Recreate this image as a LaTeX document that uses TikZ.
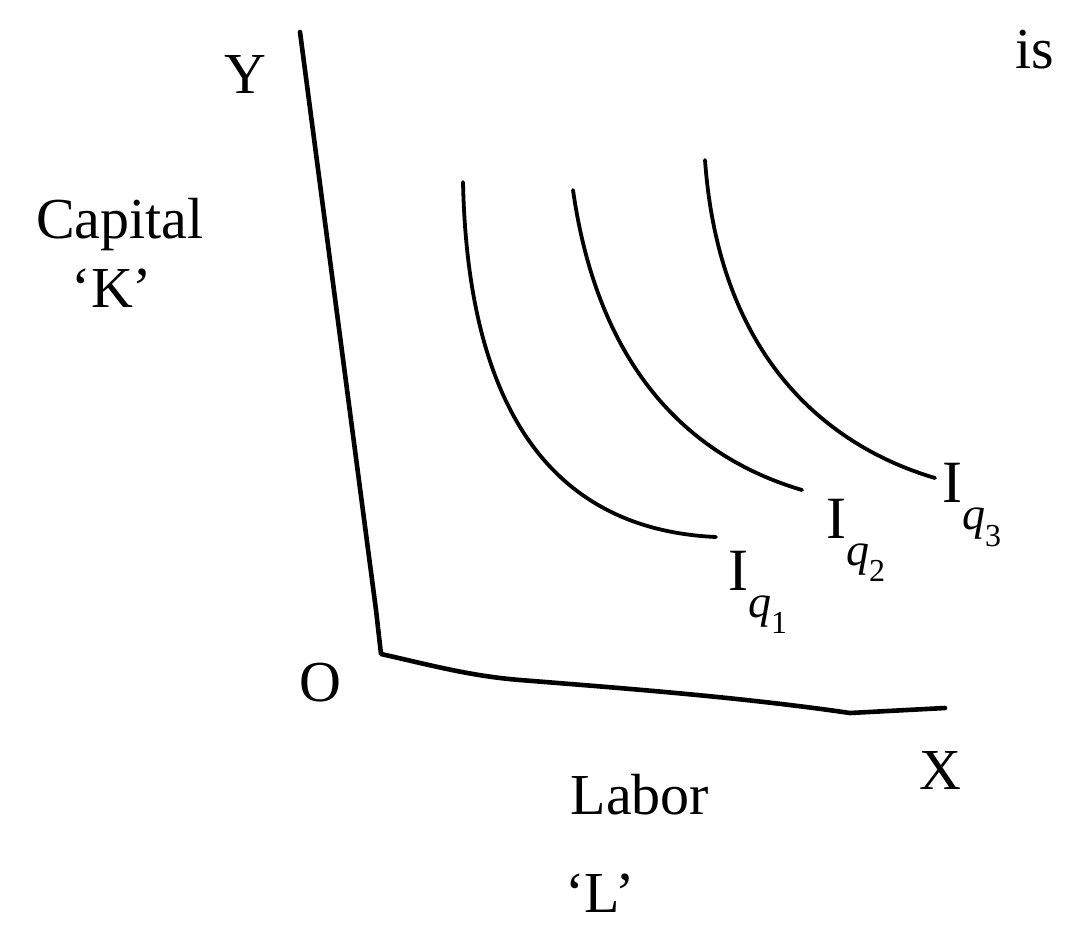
\documentclass[tikz,border=0pt]{standalone}
\usepackage{fontspec}
\setmainfont{Liberation Serif}
\newcommand{\qsub}[1]{\raisebox{-0.45em}{\fontsize{46}{46}\selectfont\itshape q\raisebox{-0.35em}{\upshape\fontsize{32}{32}\selectfont #1}}}
\begin{document}
\begin{tikzpicture}[x=1pt,y=-1pt,
  axis/.style={line width=4.6pt,line cap=round,line join=round},
  iso/.style={line width=3.8pt,line cap=round},
  lbl/.style={inner sep=0pt,font=\fontsize{58}{60}\selectfont},
  slbl/.style={inner sep=0pt,font=\fontsize{60}{62}\selectfont}]
\useasboundingbox[fill=white] (0,0) rectangle (1079,935);
% axes
\coordinate (ytop) at (300,32);
\coordinate (orig) at (381,654);
\coordinate (xend) at (945,708);
\draw[axis] (ytop) -- (376,610) -- (orig) .. controls (430,665) and (470,676) .. (520,680) .. controls (620,688) and (740,697) .. (850,713) -- (xend);
% isoquants
\coordinate (a1) at (463,182);
\coordinate (b1) at (716,537);
\coordinate (a2) at (573,190);
\coordinate (b2) at (802,490);
\coordinate (a3) at (705,160);
\coordinate (b3) at (935,478);
\draw[iso] (a1) .. controls (468,420) and (560,530) .. (b1);
\draw[iso] (a2) .. controls (600,380) and (700,460) .. (b2);
\draw[iso] (a3) .. controls (720,370) and (840,450) .. (b3);
% labels
\node[lbl] (ylab) at (245,75) {Y};
\node[lbl] (cap) at (120,225) {Capital};
\node[lbl] (klab) at (112,288) {`K'};
\node[lbl] (olab) at (320,683) {O};
\node[lbl] (xlab) at (940,770) {X};
\node[lbl] (lab) at (640,795) {Labor};
\node[lbl] (llab) at (600,893) {`L'};
\node[lbl] (is) at (1035,50) {is};
\node[slbl,anchor=west] (q1) at (728,592) {I\qsub{1}};
\node[slbl,anchor=west] (q2) at (826,540) {I\qsub{2}};
\node[slbl,anchor=west] (q3) at (942,505) {I\qsub{3}};
\end{tikzpicture}
\end{document}
